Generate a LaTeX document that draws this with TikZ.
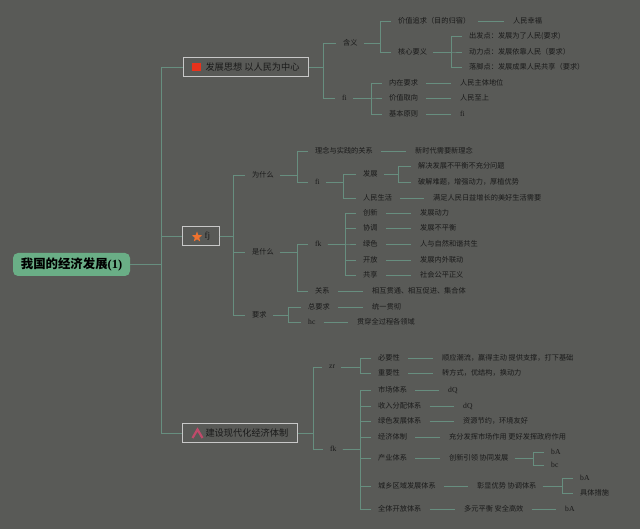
\documentclass[tikz,border=0pt]{standalone}
\usepackage{fontspec}
\setmainfont{Liberation Serif}
\newfontfamily\cjk{Noto Sans CJK SC}
\usetikzlibrary{shapes.geometric}
\definecolor{bgc}{HTML}{595A57}
\definecolor{lnc}{HTML}{678E7F}
\definecolor{txc}{HTML}{1A1A1A}
\definecolor{bxc}{HTML}{C8C8C8}
\definecolor{rootc}{HTML}{6AAE86}
\definecolor{icred}{HTML}{E8321C}
\definecolor{icstar}{HTML}{F0722E}
\definecolor{icpink}{HTML}{C04A6A}
\newcommand\mytree[4][]{\draw[sp,#1] (#2.east) -- (#2.east -| #3) |- (#4.west);}
\newcommand\mylink[2]{\draw[sg] (#1.east) -- (#2.west);}
\tikzset{
 ln/.style={draw=lnc, line width=0.75pt},
 sp/.style={ln, shorten <=6pt, shorten >=7pt},
 sg/.style={ln, shorten <=8pt, shorten >=9pt},
 tx/.style={anchor=west, inner sep=0pt, text=txc, font=\cjk\fontsize{7.2}{8.6}\selectfont},
 la/.style={anchor=west, inner sep=0pt, text=txc, font=\fontsize{7.6}{8.6}\selectfont},
 bx/.style={draw=bxc, line width=1pt, anchor=west, minimum height=19pt, inner xsep=9pt, inner ysep=0pt, text=txc, font=\cjk\fontsize{9.2}{11}\selectfont},
}
\begin{document}
\begin{tikzpicture}[x=1pt,y=-1pt]
\fill[bgc] (0,0) rectangle (640,529);
\useasboundingbox (0,0) rectangle (640,529);

% spine coordinates
\coordinate (sR) at (161,0);
\coordinate (sB1) at (323,0);
\coordinate (sB2) at (233,0);
\coordinate (sB3) at (313,0);
\coordinate (sHy) at (380,0);
\coordinate (sHx) at (451,0);
\coordinate (sFi1) at (371,0);
\coordinate (sWsm) at (297,0);
\coordinate (sFi3) at (343,0);
\coordinate (sFz) at (398,0);
\coordinate (sSsm) at (297,0);
\coordinate (sFk1) at (345,0);
\coordinate (sYq) at (288,0);
\coordinate (sZr) at (360,0);
\coordinate (sFk2) at (360,0);
\coordinate (sCy) at (533,0);
\coordinate (sZx) at (562,0);

% root and main boxes
\node[name=root, fill=rootc, rounded corners=5pt, minimum width=117pt, minimum height=23pt, inner sep=0pt, text=black, font=\cjk\bfseries\fontsize{12.4}{14}\selectfont] at (71.5,264.5) {我国的经济发展{\rmfamily\bfseries(1)}};
\node[bx, name=b1] at (183,67.5) {\hspace{13pt}发展思想 以人民为中心};
\node[bx, name=b2] at (182,236) {\hspace{13pt}{\rmfamily fj}};
\node[bx, name=b3] at (182,433) {\hspace{14pt}建设现代化经济体制};
\node[name=i1, fill=icred, minimum size=8.5pt, inner sep=0pt] at (196.5,67) {};
\node[name=i2, star, star points=5, star point ratio=2.4, fill=icstar, minimum size=11pt, inner sep=0pt] at (197,237) {};
\draw[icpink, line width=2.2pt] (192.5,438) -- (197.5,429.5) -- (202.5,438);

% branch 1
\node[tx, name=hy] at (343,43) {含义};
\node[la, name=fi1] at (342,98) {fi};
\node[tx, name=jz] at (398,21) {价值追求（目的归宿）};
\node[tx, name=hx] at (398,52) {核心要义};
\node[tx, name=rmxf] at (513,21) {人民幸福};
\node[tx, name=cfd] at (469,36) {出发点：发展为了人民(要求)};
\node[tx, name=dld] at (469,52) {动力点：发展依靠人民（要求）};
\node[tx, name=ljd] at (469,67) {落脚点：发展成果人民共享（要求）};
\node[tx, name=nzyq] at (389,83) {内在要求};
\node[tx, name=jzqx] at (389,98) {价值取向};
\node[tx, name=jbyz] at (389,114) {基本原则};
\node[tx, name=rmzt] at (460,83) {人民主体地位};
\node[tx, name=rmzs] at (460,98) {人民至上};
\node[la, name=fi2] at (460,114) {fi};

% branch 2
\node[tx, name=wsm] at (252,175) {为什么};
\node[tx, name=ssm] at (252,252) {是什么};
\node[tx, name=yq] at (252,315) {要求};
\node[tx, name=lnsj] at (315,151) {理念与实践的关系};
\node[la, name=fi3] at (315,182) {fi};
\node[tx, name=xsd] at (415,151) {新时代需要新理念};
\node[tx, name=fz] at (363,174) {发展};
\node[tx, name=rmsh] at (363,198) {人民生活};
\node[tx, name=jj] at (418,166) {解决发展不平衡不充分问题};
\node[tx, name=pj] at (418,182) {破解难题，增强动力，厚植优势};
\node[tx, name=mz] at (433,198) {满足人民日益增长的美好生活需要};
\node[la, name=fk1] at (315,244) {fk};
\node[tx, name=gx] at (315,291) {关系};
\node[tx, name=cx] at (363,213) {创新};
\node[tx, name=xt] at (363,228) {协调};
\node[tx, name=ls] at (363,244) {绿色};
\node[tx, name=kf] at (363,260) {开放};
\node[tx, name=gxs] at (363,275) {共享};
\node[tx, name=fzdl] at (420,213) {发展动力};
\node[tx, name=fzbph] at (420,228) {发展不平衡};
\node[tx, name=ryzr] at (420,244) {人与自然和谐共生};
\node[tx, name=fznw] at (420,260) {发展内外联动};
\node[tx, name=shgp] at (420,275) {社会公平正义};
\node[tx, name=xhgt] at (372,291) {相互贯通、相互促进、集合体};
\node[tx, name=zyq] at (308,307) {总要求};
\node[la, name=hc] at (308,322) {hc};
\node[tx, name=tygc] at (372,307) {统一贯彻};
\node[tx, name=gcqg] at (357,322) {贯穿全过程各领域};

% branch 3
\node[la, name=zr] at (329,367) {zr};
\node[la, name=fk2] at (330,449) {fk};
\node[tx, name=byx] at (378,358) {必要性};
\node[tx, name=zyx] at (378,373) {重要性};
\node[tx, name=syc] at (442,358) {顺应潮流，赢得主动 提供支撑，打下基础};
\node[tx, name=zfs] at (442,373) {转方式，优结构，换动力};
\node[tx, name=scx] at (378,390) {市场体系};
\node[tx, name=srfp] at (378,406) {收入分配体系};
\node[tx, name=lsfz] at (378,421) {绿色发展体系};
\node[tx, name=jjtz] at (378,437) {经济体制};
\node[tx, name=cyx] at (378,458) {产业体系};
\node[tx, name=cxqy] at (378,486) {城乡区域发展体系};
\node[tx, name=qtkf] at (378,509) {全体开放体系};
\node[la, name=dq1] at (448,390) {dQ};
\node[la, name=dq2] at (463,406) {dQ};
\node[tx, name=zyjy] at (463,421) {资源节约，环境友好};
\node[tx, name=cffh] at (449,437) {充分发挥市场作用 更好发挥政府作用};
\node[tx, name=cxyl] at (449,458) {创新引领 协同发展};
\node[la, name=ba1] at (551,452) {bA};
\node[la, name=bc] at (551,465) {bc};
\node[tx, name=zxys] at (477,486) {彰显优势 协调体系};
\node[la, name=ba2] at (580,478) {bA};
\node[tx, name=jtcs] at (580,493) {具体措施};
\node[tx, name=dypp] at (464,509) {多元平衡 安全高效};
\node[la, name=ba3] at (565,509) {bA};

% connectors: trunk
\mytree[shorten <=0pt, shorten >=0pt]{root}{sR}{b1}
\mytree[shorten <=0pt, shorten >=0pt]{root}{sR}{b2}
\mytree[shorten <=0pt, shorten >=0pt]{root}{sR}{b3}

% branch 1 connectors
\mytree[shorten <=0pt]{b1}{sB1}{hy}
\mytree[shorten <=0pt]{b1}{sB1}{fi1}
\mytree{hy}{sHy}{jz}
\mytree{hy}{sHy}{hx}
\mytree{hx}{sHx}{cfd}
\mytree{hx}{sHx}{dld}
\mytree{hx}{sHx}{ljd}
\mytree{fi1}{sFi1}{nzyq}
\mytree{fi1}{sFi1}{jzqx}
\mytree{fi1}{sFi1}{jbyz}
\mylink{jz}{rmxf}
\mylink{nzyq}{rmzt}
\mylink{jzqx}{rmzs}
\mylink{jbyz}{fi2}

% branch 2 connectors
\mytree[shorten <=0pt]{b2}{sB2}{wsm}
\mytree[shorten <=0pt]{b2}{sB2}{ssm}
\mytree[shorten <=0pt]{b2}{sB2}{yq}
\mytree{wsm}{sWsm}{lnsj}
\mytree{wsm}{sWsm}{fi3}
\mytree{fi3}{sFi3}{fz}
\mytree{fi3}{sFi3}{rmsh}
\mytree{fz}{sFz}{jj}
\mytree{fz}{sFz}{pj}
\mylink{lnsj}{xsd}
\mylink{rmsh}{mz}
\mytree{ssm}{sSsm}{fk1}
\mytree{ssm}{sSsm}{gx}
\mytree{fk1}{sFk1}{cx}
\mytree{fk1}{sFk1}{xt}
\mytree{fk1}{sFk1}{ls}
\mytree{fk1}{sFk1}{kf}
\mytree{fk1}{sFk1}{gxs}
\mylink{cx}{fzdl}
\mylink{xt}{fzbph}
\mylink{ls}{ryzr}
\mylink{kf}{fznw}
\mylink{gxs}{shgp}
\mylink{gx}{xhgt}
\mytree{yq}{sYq}{zyq}
\mytree{yq}{sYq}{hc}
\mylink{zyq}{tygc}
\mylink{hc}{gcqg}

% branch 3 connectors
\mytree[shorten <=0pt]{b3}{sB3}{zr}
\mytree[shorten <=0pt]{b3}{sB3}{fk2}
\mytree{zr}{sZr}{byx}
\mytree{zr}{sZr}{zyx}
\mylink{byx}{syc}
\mylink{zyx}{zfs}
\mytree{fk2}{sFk2}{scx}
\mytree{fk2}{sFk2}{srfp}
\mytree{fk2}{sFk2}{lsfz}
\mytree{fk2}{sFk2}{jjtz}
\mytree{fk2}{sFk2}{cyx}
\mytree{fk2}{sFk2}{cxqy}
\mytree{fk2}{sFk2}{qtkf}
\mylink{scx}{dq1}
\mylink{srfp}{dq2}
\mylink{lsfz}{zyjy}
\mylink{jjtz}{cffh}
\mylink{cyx}{cxyl}
\mytree{cxyl}{sCy}{ba1}
\mytree{cxyl}{sCy}{bc}
\mylink{cxqy}{zxys}
\mytree{zxys}{sZx}{ba2}
\mytree{zxys}{sZx}{jtcs}
\mylink{qtkf}{dypp}
\mylink{dypp}{ba3}
\end{tikzpicture}
\end{document}
